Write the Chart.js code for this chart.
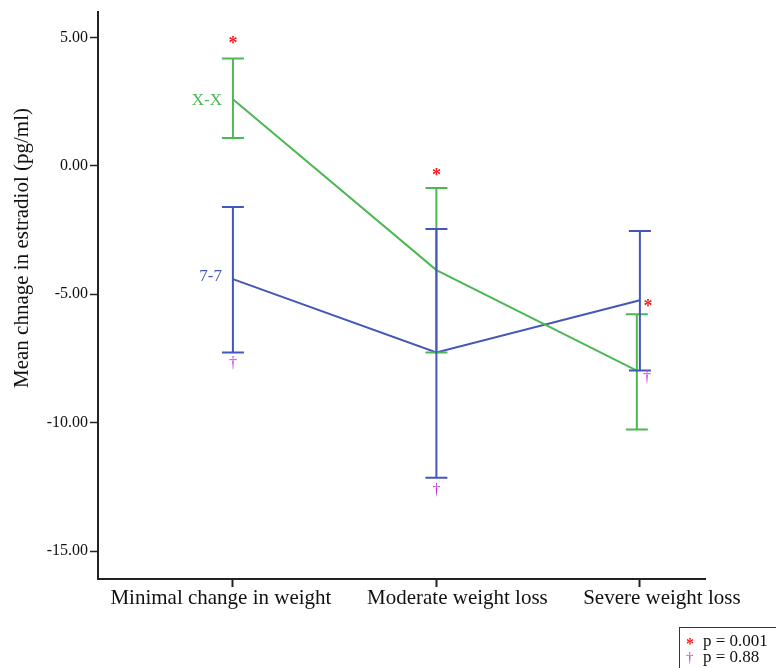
<!DOCTYPE html>
<html>
<head>
<meta charset="utf-8">
<script src="https://cdn.jsdelivr.net/npm/chart.js@4/dist/chart.umd.min.js"></script>
<style>
  html, body { margin: 0; padding: 0; background: #fff; }
  #wrap { width: 776px; height: 668px; position: relative; }
</style>
</head>
<body>
<div id="wrap"><canvas id="chart" width="776" height="668"></canvas></div>
<script>
const CATEGORIES = ["Minimal change in weight", "Moderate weight loss", "Severe weight loss"];

// X-X series (green)
const xxPos = [0, 1, 1.985];
const xxMean = [2.6, -4.06, -7.97];
const xxUpper = [4.18, -0.86, -5.78];
const xxLower = [1.09, -7.27, -10.27];

// 7-7 series (blue)
const sevPos = [0, 1, 2];
const sevMean = [-4.41, -7.27, -5.23];
const sevUpper = [-1.6, -2.46, -2.54];
const sevLower = [-7.27, -12.15, -7.97];

// significance marks
const starPos = [0, 1, 2.04];
const starVal = [4.85, -0.3, -5.4];
const daggerPos = [0, 1, 2.035];
const daggerVal = [-7.7, -12.65, -8.25];

const Y_TICKS = [5, 0, -5, -10, -15];
const Y_TITLE = "Mean chnage in estradiol (pg/ml)";

const GREEN = "#4cb854";
const BLUE = "#4456b9";
const SERIF = "'Liberation Serif', 'DejaVu Serif', serif";

// the category labels in the original sit a bit off their ticks
const labelShift = [-12, 21, 22];

function toPoints(xs, ys) {
  return xs.map((x, i) => ({ x, y: ys[i] }));
}

const errorBars = {
  id: "errorBars",
  afterDatasetsDraw(chart) {
    const { ctx, scales: { x, y } } = chart;
    const series = [
      { pos: xxPos, up: xxUpper, lo: xxLower, color: GREEN },
      { pos: sevPos, up: sevUpper, lo: sevLower, color: BLUE }
    ];
    ctx.save();
    ctx.lineWidth = 2;
    series.forEach(s => {
      ctx.strokeStyle = s.color;
      s.pos.forEach((p, i) => {
        const px = x.getPixelForValue(p);
        const yu = y.getPixelForValue(s.up[i]);
        const yl = y.getPixelForValue(s.lo[i]);
        ctx.beginPath();
        ctx.moveTo(px, yu); ctx.lineTo(px, yl);
        ctx.moveTo(px - 11, yu); ctx.lineTo(px + 11, yu);
        ctx.moveTo(px - 11, yl); ctx.lineTo(px + 11, yl);
        ctx.stroke();
      });
    });

    // series labels beside the first point
    ctx.font = "17px " + SERIF;
    ctx.textAlign = "right";
    ctx.textBaseline = "middle";
    ctx.fillStyle = GREEN;
    ctx.fillText("X-X", x.getPixelForValue(xxPos[0]) - 11, y.getPixelForValue(xxMean[0]) + 1);
    ctx.fillStyle = BLUE;
    ctx.fillText("7-7", x.getPixelForValue(sevPos[0]) - 11, y.getPixelForValue(sevMean[0]) - 3);

    // significance marks
    ctx.textAlign = "center";
    ctx.font = "bold 18px " + SERIF;
    ctx.fillStyle = "#ff1a1a";
    starPos.forEach((p, i) => {
      ctx.fillText("*", x.getPixelForValue(p), y.getPixelForValue(starVal[i]) + 3);
    });
    ctx.font = "16px " + SERIF;
    ctx.fillStyle = "#c03be0";
    daggerPos.forEach((p, i) => {
      ctx.fillText("\u2020", x.getPixelForValue(p), y.getPixelForValue(daggerVal[i]));
    });
    ctx.restore();
  }
};

const axisText = {
  id: "axisText",
  afterDraw(chart) {
    const { ctx, scales: { x } } = chart;
    ctx.save();
    ctx.fillStyle = "#111";
    ctx.textAlign = "center";
    ctx.textBaseline = "alphabetic";
    ctx.font = "21px " + SERIF;
    CATEGORIES.forEach((c, i) => {
      ctx.fillText(c, x.getPixelForValue(i) + labelShift[i], 604);
    });

    // y title
    ctx.translate(22, 248);
    ctx.rotate(-Math.PI / 2);
    ctx.textBaseline = "middle";
    ctx.font = "21px " + SERIF;
    ctx.fillText(Y_TITLE, 0, 0);
    ctx.restore();

    // key box
    ctx.save();
    ctx.strokeStyle = "#333";
    ctx.lineWidth = 1;
    ctx.strokeRect(679.5, 627.5, 110, 48);
    ctx.textBaseline = "middle";
    ctx.textAlign = "left";
    ctx.font = "bold 16px " + SERIF;
    ctx.fillStyle = "#ff1a1a";
    ctx.fillText("*", 686, 645);
    ctx.font = "15px " + SERIF;
    ctx.fillStyle = "#c03be0";
    ctx.fillText("\u2020", 686, 658);
    ctx.font = "17px " + SERIF;
    ctx.fillStyle = "#111";
    ctx.fillText("p = 0.001", 703, 642);
    ctx.fillText("p = 0.88", 703, 658);
    ctx.restore();
  }
};

new Chart(document.getElementById("chart"), {
  type: "scatter",
  data: {
    datasets: [
      {
        label: "X-X",
        data: toPoints(xxPos, xxMean),
        showLine: true,
        borderColor: GREEN,
        borderWidth: 2,
        pointRadius: 0,
        tension: 0
      },
      {
        label: "7-7",
        data: toPoints(sevPos, sevMean),
        showLine: true,
        borderColor: BLUE,
        borderWidth: 2,
        pointRadius: 0,
        tension: 0
      }
    ]
  },
  options: {
    responsive: false,
    animation: false,
    layout: { padding: { top: 7, right: 71, left: 0, bottom: 0 } },
    plugins: {
      legend: { display: false },
      tooltip: { enabled: false }
    },
    scales: {
      x: {
        type: "linear",
        min: -0.663,
        max: 2.32,
        afterBuildTicks: s => { s.ticks = [0, 1, 2].map(v => ({ value: v })); },
        afterFit: s => { s.height = 89; },
        ticks: { display: false },
        grid: { drawOnChartArea: false, tickLength: 8, color: "#222", tickWidth: 2 },
        border: { color: "#222", width: 2 }
      },
      y: {
        min: -16.09,
        max: 6.01,
        afterBuildTicks: s => { s.ticks = Y_TICKS.map(v => ({ value: v })); },
        afterFit: s => { s.width = 98; },
        ticks: {
          callback: v => v.toFixed(2),
          color: "#111",
          font: { family: SERIF, size: 16 },
          padding: 2
        },
        grid: { drawOnChartArea: false, tickLength: 8, color: "#222", tickWidth: 1.5 },
        border: { color: "#222", width: 2 }
      }
    }
  },
  plugins: [errorBars, axisText]
});
</script>
</body>
</html>
